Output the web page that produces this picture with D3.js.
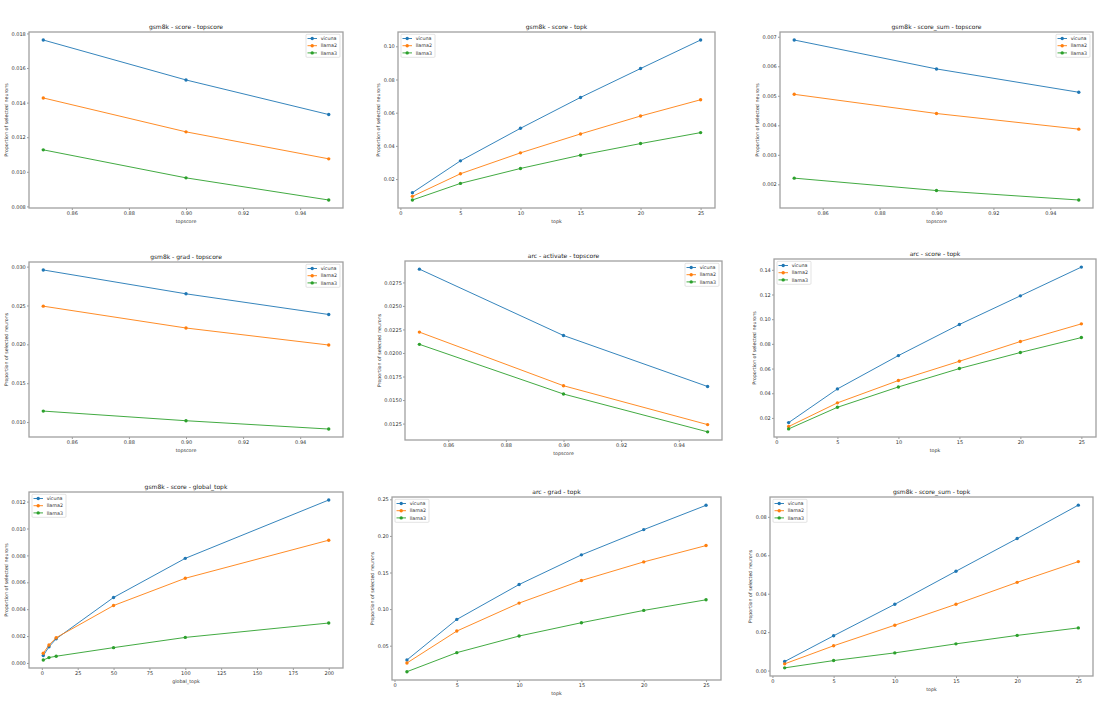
<!DOCTYPE html>
<html><head><meta charset="utf-8">
<script src="https://cdn.jsdelivr.net/npm/d3@7"></script>
<style>body{margin:0;background:#fff}svg{display:block}text{font-family:"DejaVu Sans",sans-serif}</style>
</head><body><svg id="c" width="1112" height="701"></svg>
<script>
// ---------- data ----------
const models = ["vicuna", "llama2", "llama3"];

const topscoreX = [0.85, 0.90, 0.95];
const topkX = [1, 5, 10, 15, 20, 25];
const globalTopkX = [1, 5, 10, 50, 100, 200];

const topscoreTicks = ["0.86", "0.88", "0.90", "0.92", "0.94"];
const topkTicks = ["0", "5", "10", "15", "20", "25"];
const globalTopkTicks = ["0", "25", "50", "75", "100", "125", "150", "175", "200"];

// series order: vicuna, llama2, llama3
const gsm8kScoreTopscore = [
  [0.01762, 0.01531, 0.01331],
  [0.01427, 0.01231, 0.01075],
  [0.01127, 0.00965, 0.00837]
];
const gsm8kScoreTopk = [
  [0.0118, 0.0310, 0.0506, 0.0692, 0.0866, 0.1038],
  [0.0096, 0.0232, 0.0358, 0.0472, 0.0580, 0.0678],
  [0.0074, 0.0174, 0.0264, 0.0344, 0.0414, 0.0480]
];
const gsm8kScoreSumTopscore = [
  [0.00689, 0.00591, 0.00512],
  [0.00505, 0.00440, 0.00387],
  [0.00221, 0.00179, 0.00147]
];
const gsm8kGradTopscore = [
  [0.02957, 0.02650, 0.02384],
  [0.02491, 0.02210, 0.01991],
  [0.01141, 0.01017, 0.00910]
];
const arcActivateTopscore = [
  [0.02891, 0.02186, 0.01644],
  [0.02222, 0.01652, 0.01239],
  [0.02092, 0.01564, 0.01162]
];
const arcScoreTopk = [
  [0.0162, 0.0435, 0.0705, 0.0957, 0.1189, 0.1422],
  [0.0130, 0.0322, 0.0503, 0.0659, 0.0819, 0.0962],
  [0.0111, 0.0286, 0.0451, 0.0600, 0.0730, 0.0851]
];
const gsm8kScoreGlobalTopk = [
  [0.00055, 0.00120, 0.00180, 0.00487, 0.00778, 0.01212],
  [0.00072, 0.00134, 0.00188, 0.00427, 0.00630, 0.00913],
  [0.00022, 0.00040, 0.00050, 0.00114, 0.00190, 0.00297]
];
const arcGradTopk = [
  [0.0305, 0.0859, 0.1336, 0.1741, 0.2086, 0.2418],
  [0.0264, 0.0700, 0.1082, 0.1391, 0.1645, 0.1868],
  [0.0145, 0.0405, 0.0632, 0.0814, 0.0982, 0.1127]
];
const gsm8kScoreSumTopk = [
  [0.0047, 0.0181, 0.0345, 0.0517, 0.0687, 0.0861],
  [0.0035, 0.0129, 0.0236, 0.0345, 0.0459, 0.0567],
  [0.0014, 0.0052, 0.0092, 0.0139, 0.0183, 0.0222]
];

const yTicks1 = ["0.008", "0.010", "0.012", "0.014", "0.016", "0.018"];
const yTicks2 = ["0.02", "0.04", "0.06", "0.08", "0.10"];
const yTicks3 = ["0.002", "0.003", "0.004", "0.005", "0.006", "0.007"];
const yTicks4 = ["0.010", "0.015", "0.020", "0.025", "0.030"];
const yTicks5 = ["0.0125", "0.0150", "0.0175", "0.0200", "0.0225", "0.0250", "0.0275"];
const yTicks6 = ["0.02", "0.04", "0.06", "0.08", "0.10", "0.12", "0.14"];
const yTicks7 = ["0.000", "0.002", "0.004", "0.006", "0.008", "0.010", "0.012"];
const yTicks8 = ["0.05", "0.10", "0.15", "0.20", "0.25"];
const yTicks9 = ["0.00", "0.02", "0.04", "0.06", "0.08"];

const yLabel = "Proportion of selected neurons";

const panels = [
  {title: "gsm8k - score - topscore", xlabel: "topscore", x: topscoreX, xt: topscoreTicks, yt: yTicks1, s: gsm8kScoreTopscore, leg: "right"},
  {title: "gsm8k - score - topk", xlabel: "topk", x: topkX, xt: topkTicks, yt: yTicks2, s: gsm8kScoreTopk, leg: "left"},
  {title: "gsm8k - score_sum - topscore", xlabel: "topscore", x: topscoreX, xt: topscoreTicks, yt: yTicks3, s: gsm8kScoreSumTopscore, leg: "right"},
  {title: "gsm8k - grad - topscore", xlabel: "topscore", x: topscoreX, xt: topscoreTicks, yt: yTicks4, s: gsm8kGradTopscore, leg: "right"},
  {title: "arc - activate - topscore", xlabel: "topscore", x: topscoreX, xt: topscoreTicks, yt: yTicks5, s: arcActivateTopscore, leg: "right"},
  {title: "arc - score - topk", xlabel: "topk", x: topkX, xt: topkTicks, yt: yTicks6, s: arcScoreTopk, leg: "left"},
  {title: "gsm8k - score - global_topk", xlabel: "global_topk", x: globalTopkX, xt: globalTopkTicks, yt: yTicks7, s: gsm8kScoreGlobalTopk, leg: "left"},
  {title: "arc - grad - topk", xlabel: "topk", x: topkX, xt: topkTicks, yt: yTicks8, s: arcGradTopk, leg: "left"},
  {title: "gsm8k - score_sum - topk", xlabel: "topk", x: topkX, xt: topkTicks, yt: yTicks9, s: gsm8kScoreSumTopk, leg: "left"}
];

// ---------- layout & style ----------
const frames = [
  [29, 32, 343, 208], [398, 32, 715, 208], [780, 32, 1093, 208],
  [29, 262, 343, 437], [405, 261, 722, 440], [774, 259, 1096, 437],
  [29, 492, 343, 668], [392, 497, 721, 680], [770, 497, 1093, 676]
];
const colors = ["#1f77b4", "#ff7f0e", "#2ca02c"];
const tickFont = 5, labelFont = 4.8, titleFont = 6, legFont = 4.8;

const svg = d3.select("#c");

function pad(ext) { const p = (ext[1] - ext[0]) * 0.05; return [ext[0] - p, ext[1] + p]; }

panels.forEach((p, i) => {
  const [l, t, r, b] = frames[i];
  const g = svg.append("g");
  const xs = d3.scaleLinear().domain(pad(d3.extent(p.x))).range([l, r]);
  const ys = d3.scaleLinear().domain(pad(d3.extent(p.s.flat()))).range([b, t]);

  // axes
  const xa = g.append("g").attr("transform", `translate(0,${b})`)
    .call(d3.axisBottom(xs).tickValues(p.xt.map(Number)).tickFormat((d, k) => p.xt[k]).tickSize(2).tickPadding(1.2));
  const ya = g.append("g").attr("transform", `translate(${l},0)`)
    .call(d3.axisLeft(ys).tickValues(p.yt.map(Number)).tickFormat((d, k) => p.yt[k]).tickSize(2).tickPadding(1.2));
  [xa, ya].forEach(a => {
    a.select(".domain").remove();
    a.selectAll("line").attr("stroke", "#555").attr("stroke-width", 0.6);
    a.selectAll("text").attr("font-size", tickFont).attr("fill", "#333").attr("font-family", "DejaVu Sans");
  });

  // frame
  g.append("rect").attr("x", l).attr("y", t).attr("width", r - l).attr("height", b - t)
    .attr("fill", "none").attr("stroke", "#a0a0a0").attr("stroke-width", 1.3);

  // title and labels
  g.append("text").attr("x", (l + r) / 2).attr("y", t - 3.5).attr("text-anchor", "middle")
    .attr("font-size", titleFont).attr("fill", "#222").text(p.title);
  g.append("text").attr("x", (l + r) / 2).attr("y", b + 14.5).attr("text-anchor", "middle")
    .attr("font-size", labelFont).attr("fill", "#333").text(p.xlabel);
  let mw = 0;
  ya.selectAll("text").each(function () { mw = Math.max(mw, this.getBBox().width); });
  const yx = l - 3.5 - mw - 3.5;
  g.append("text").attr("transform", `translate(${yx},${(t + b) / 2}) rotate(-90)`)
    .attr("text-anchor", "middle").attr("font-size", labelFont).attr("fill", "#333").text(yLabel);

  // series
  const line = d3.line().x((d, k) => xs(p.x[k])).y(d => ys(d));
  p.s.forEach((vals, si) => {
    g.append("path").attr("d", line(vals)).attr("fill", "none")
      .attr("stroke", colors[si]).attr("stroke-width", 0.9);
    g.selectAll(null).data(vals).enter().append("circle")
      .attr("cx", (d, k) => xs(p.x[k])).attr("cy", d => ys(d)).attr("r", 1.7)
      .attr("fill", colors[si]);
  });

  // legend
  const bw = 34, bh = 23;
  const bx = p.leg === "right" ? r - 3 - bw : l + 3;
  const by = t + 2.3;
  const lg = g.append("g");
  lg.append("rect").attr("x", bx).attr("y", by).attr("width", bw).attr("height", bh).attr("rx", 1)
    .attr("fill", "#fff").attr("fill-opacity", 0.85).attr("stroke", "#d0d0d0").attr("stroke-width", 0.6);
  models.forEach((m, si) => {
    const yy = by + 4.2 + si * 7.2;
    lg.append("line").attr("x1", bx + 1.5).attr("x2", bx + 11).attr("y1", yy).attr("y2", yy)
      .attr("stroke", colors[si]).attr("stroke-width", 0.9);
    lg.append("circle").attr("cx", bx + 6.2).attr("cy", yy).attr("r", 1.7).attr("fill", colors[si]);
    lg.append("text").attr("x", bx + 14.7).attr("y", yy + 1.7).attr("font-size", legFont)
      .attr("fill", "#333").text(m);
  });
});
</script></body></html>
